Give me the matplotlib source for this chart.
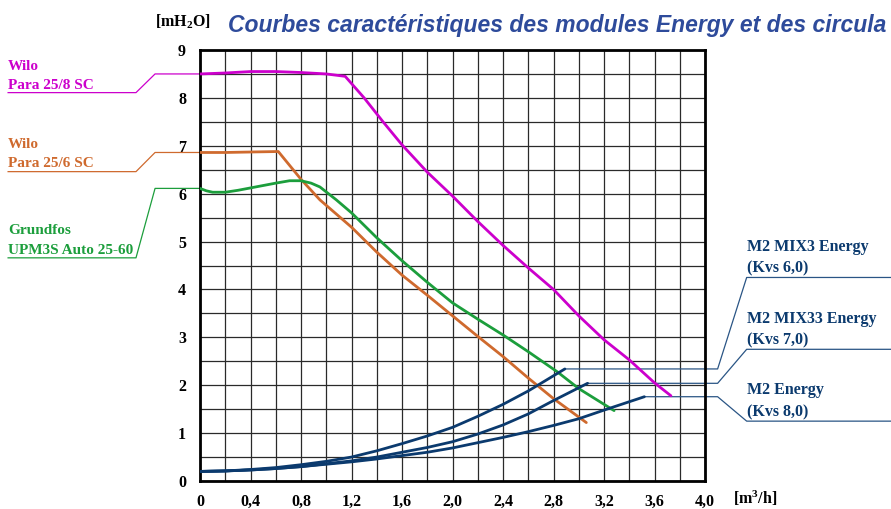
import matplotlib.pyplot as plt

# pump curves (flow m3/h, head mH2O)
wilo8_q = [0, 0.2, 0.4, 0.6, 0.8, 1.0, 1.15, 1.3, 1.45, 1.6, 1.8, 2.0, 2.2, 2.4, 2.6, 2.8, 3.0, 3.2, 3.4, 3.6, 3.73]
wilo8_h = [8.5, 8.52, 8.55, 8.55, 8.53, 8.5, 8.45, 8.0, 7.5, 7.02, 6.45, 5.95, 5.42, 4.92, 4.45, 4.0, 3.45, 2.95, 2.53, 2.05, 1.78]
wilo6_q = [0, 0.2, 0.4, 0.62, 0.8, 0.95, 1.2, 1.4, 1.6, 1.8, 2.0, 2.2, 2.4, 2.6, 2.8, 3.06]
wilo6_h = [6.86, 6.86, 6.87, 6.88, 6.3, 5.87, 5.3, 4.78, 4.3, 3.88, 3.45, 3.02, 2.6, 2.15, 1.72, 1.22]
grund_q = [0, 0.05, 0.1, 0.2, 0.3, 0.4, 0.5, 0.6, 0.71, 0.8, 0.88, 0.95, 1.08, 1.2, 1.4, 1.6, 1.8, 2.0, 2.2, 2.4, 2.6, 2.83, 3.0, 3.28]
grund_h = [6.11, 6.06, 6.03, 6.03, 6.07, 6.12, 6.17, 6.22, 6.27, 6.27, 6.22, 6.14, 5.87, 5.6, 5.08, 4.6, 4.15, 3.72, 3.38, 3.05, 2.7, 2.28, 1.93, 1.47]

# module pressure losses
kvs6_q = [0, 0.2, 0.4, 0.6, 0.8, 1.0, 1.2, 1.4, 1.6, 1.8, 2.0, 2.2, 2.4, 2.6, 2.89]
kvs6_h = [0.2, 0.21, 0.24, 0.28, 0.34, 0.41, 0.5, 0.63, 0.78, 0.94, 1.12, 1.35, 1.6, 1.88, 2.34]
kvs7_q = [0, 0.2, 0.4, 0.6, 0.8, 1.0, 1.2, 1.4, 1.6, 1.8, 2.0, 2.2, 2.4, 2.6, 2.8, 3.07]
kvs7_h = [0.2, 0.21, 0.23, 0.26, 0.3, 0.36, 0.42, 0.5, 0.6, 0.7, 0.82, 0.98, 1.17, 1.4, 1.68, 2.04]
kvs8_q = [0, 0.2, 0.4, 0.6, 0.8, 1.0, 1.2, 1.4, 1.6, 1.8, 2.0, 2.2, 2.4, 2.6, 2.8, 3.0, 3.2, 3.52]
kvs8_h = [0.2, 0.21, 0.23, 0.26, 0.3, 0.35, 0.4, 0.46, 0.53, 0.6, 0.69, 0.8, 0.91, 1.03, 1.16, 1.3, 1.48, 1.76]

xticks = [0, 0.4, 0.8, 1.2, 1.6, 2.0, 2.4, 2.8, 3.2, 3.6, 4.0]
xlabels = ["0", "0,4", "0,8", "1,2", "1,6", "2,0", "2,4", "2,8", "3,2", "3,6", "4,0"]
yticks = [0, 1, 2, 3, 4, 5, 6, 7, 8, 9]

W, H = 891, 509
MAG, ORA, GRE, BLU = "#cc00cc", "#cf6a2e", "#1c9e3c", "#0b3a6e"
serif = ["Liberation Serif", "DejaVu Serif"]

plt.rcParams["mathtext.fontset"] = "custom"
plt.rcParams["mathtext.rm"] = "Liberation Serif:bold"
plt.rcParams["mathtext.it"] = "Liberation Serif:bold"
plt.rcParams["mathtext.bf"] = "Liberation Serif:bold"

fig = plt.figure(figsize=(W / 100, H / 100), dpi=100)
ax = fig.add_axes([200 / W, 28 / H, 505 / W, 431 / H])

ax.set_xlim(0, 4.0)
ax.set_ylim(0, 9)
ax.set_xticks(xticks)
ax.set_xticklabels(xlabels)
ax.set_xticks([i * 0.2 for i in range(21)], minor=True)
ax.set_yticks(yticks)
ax.set_yticks([i * 0.5 for i in range(19)], minor=True)
ax.grid(which="both", color="#2a2a2a", lw=0.9)
ax.set_axisbelow(True)
ax.tick_params(which="both", length=0)
ax.tick_params(axis="x", pad=9)
ax.tick_params(axis="y", pad=10)
for lab in ax.get_xticklabels() + ax.get_yticklabels():
    lab.set_family(serif)
    lab.set_fontweight("bold")
    lab.set_fontsize(11.5)
for s in ax.spines.values():
    s.set_linewidth(2)
    s.set_color("black")

curves = [
    (wilo8_q, wilo8_h, MAG),
    (wilo6_q, wilo6_h, ORA),
    (grund_q, grund_h, GRE),
    (kvs6_q, kvs6_h, BLU),
    (kvs7_q, kvs7_h, BLU),
    (kvs8_q, kvs8_h, BLU),
]
for q, h, c in curves:
    ax.plot(q, h, color=c, lw=2, solid_capstyle="round", solid_joinstyle="round", zorder=3)

# leader lines on the left (data coords, outside the axes)
left = [(wilo8_h[0], 8.11, MAG), (wilo6_h[0], 6.46, ORA), (grund_h[0], 4.66, GRE)]
for y0, y1, c in left:
    ax.plot([0, -0.356, -0.507, -1.52], [y0, y0, y1, y1], color=c, lw=0.9, clip_on=False)

# leader lines on the right
right = [(kvs6_q[-1], kvs6_h[-1], 4.25), (kvs7_q[-1], kvs7_h[-1], 2.75), (kvs8_q[-1], kvs8_h[-1], 1.25)]
for x0, y0, y1 in right:
    ax.plot([x0, 4.1, 4.33, 5.47], [y0, y0, y1, y1], color="#2a5585", lw=0.9, clip_on=False)


def ftext(x, y, s, **kw):
    fig.text(x / W, 1 - y / H, s, va="baseline", **kw)


lab_kw = dict(family=serif, fontsize=11, fontweight="bold")
ftext(8, 70, "Wilo", color=MAG, **lab_kw)
ftext(8, 89, "Para 25/8 SC", color=MAG, **lab_kw)
ftext(8, 148, "Wilo", color=ORA, **lab_kw)
ftext(8, 167, "Para 25/6 SC", color=ORA, **lab_kw)
ftext(8, 234, "Grundfos", color=GRE, **lab_kw)
ftext(8, 254, "UPM3S Auto 25-60", color=GRE, **lab_kw)

blu_kw = dict(family=serif, fontsize=11.5, fontweight="bold", color=BLU)
ftext(747, 251, "M2 MIX3 Energy", **blu_kw)
ftext(747, 272, "(Kvs 6,0)", **blu_kw)
ftext(747, 323, "M2 MIX33 Energy", **blu_kw)
ftext(747, 344, "(Kvs 7,0)", **blu_kw)
ftext(747, 394, "M2 Energy", **blu_kw)
ftext(747, 416, "(Kvs 8,0)", **blu_kw)

ftext(155, 27, "[mH$_2$O]", family=serif, fontsize=11.5, fontweight="bold", color="black")
ftext(733, 504, "[m$^3$/h]", family=serif, fontsize=11.5, fontweight="bold", color="black")

ftext(228, 32, "Courbes caractéristiques des modules Energy et des circula",
      family=["Liberation Sans", "DejaVu Sans"], fontsize=16.5, fontweight="bold",
      style="italic", color="#2e4b9b")

fig.savefig("out.png", dpi=100)
